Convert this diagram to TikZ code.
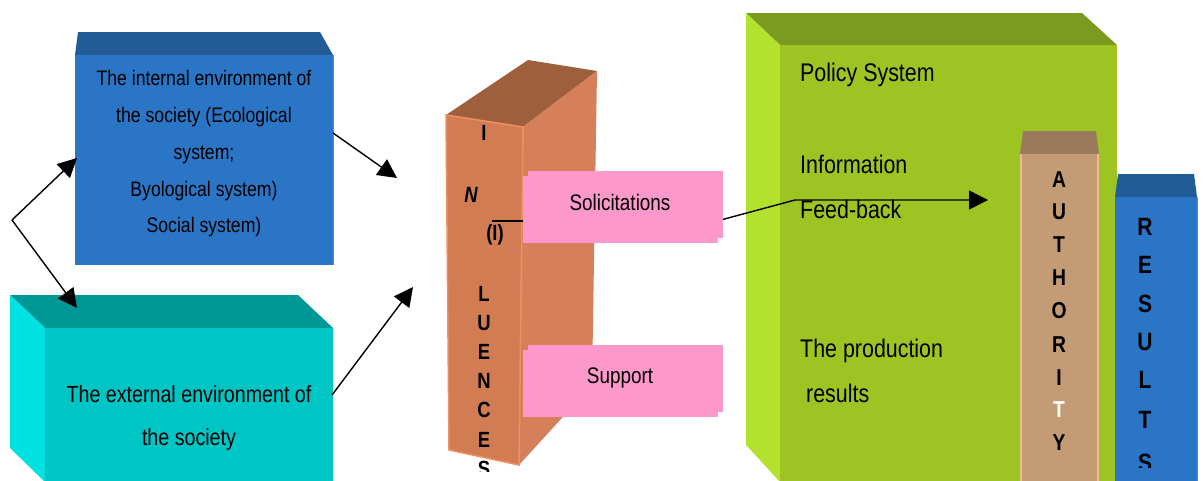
\documentclass[tikz,border=0pt]{standalone}
\usepackage{fontspec}
\setmainfont{Liberation Sans}
\newfontfamily\nf[FakeStretch=0.84]{Liberation Sans}
\usetikzlibrary{arrows.meta}
\definecolor{blueF}{HTML}{2A75C5}
\definecolor{blueT}{HTML}{235B97}
\definecolor{blueE}{HTML}{4A95E0}
\definecolor{tealF}{HTML}{00C5C5}
\definecolor{tealT}{HTML}{009797}
\definecolor{tealS}{HTML}{00E2E2}
\definecolor{orF}{HTML}{D27C53}
\definecolor{orT}{HTML}{9E5F3C}
\definecolor{orS}{HTML}{D5805A}
\definecolor{orE}{HTML}{EE9060}
\definecolor{pinkF}{HTML}{FD98CA}
\definecolor{grF}{HTML}{9EC424}
\definecolor{grT}{HTML}{7A9B20}
\definecolor{grS}{HTML}{B2E22E}
\definecolor{auF}{HTML}{C39C75}
\definecolor{auT}{HTML}{9A7A5C}
\definecolor{auE}{HTML}{E9BE8C}
\definecolor{reT}{HTML}{225C98}
\tikzset{
  face/.style={rectangle, draw=none, inner sep=0pt, outer sep=0pt},
  pinkbox/.style={face, fill=pinkF, minimum width=195pt, minimum height=67pt},
  txt/.style={inner sep=0pt, anchor=base},
  ltxt/.style={inner sep=0pt, anchor=base west, font=\nf\fontsize{25.5}{30}\selectfont},
  btxt/.style={txt, font=\nf\fontsize{21}{25}\selectfont},
  ttxt/.style={txt, font=\nf\fontsize{23.4}{28}\selectfont},
  ptxt/.style={txt, font=\nf\fontsize{22.5}{27}\selectfont},
  ilet/.style={txt, font=\nf\bfseries\fontsize{22}{26}\selectfont},
  alet/.style={txt, font=\nf\bfseries\fontsize{23}{27}\selectfont},
  rlet/.style={txt, font=\nf\bfseries\fontsize{25}{30}\selectfont},
  arr/.style={line width=1.4pt, -{Triangle[length=19pt,width=19pt]}},
  con/.style={line width=1.4pt}
}
\begin{document}
\begin{tikzpicture}[x=1pt,y=-1pt]
\useasboundingbox (0,0) rectangle (1204,480);
\clip (0,0) rectangle (1204,480);

% internal environment (blue box)
\fill[blueT] (78,32) -- (320,32) -- (333,55) -- (75,55) -- cycle;
\node[face, fill=blueF, minimum width=258pt, minimum height=210pt] (internal) at (204,160) {};
\draw[blueE, line width=1pt] (333,55) -- (333,265);

% external environment (teal box)
\fill[tealT] (10,295) -- (298,295) -- (333,328) -- (45,328) -- cycle;
\fill[tealS] (10,295) -- (45,328) -- (45,482) -- (10,448) -- cycle;
\node[face, fill=tealF, minimum width=288pt, minimum height=154pt] (external) at (189,405) {};

% policy system (green box)
\fill[grT] (746,13) -- (1082,13) -- (1117,45) -- (780,45) -- cycle;
\fill[grS] (746,13) -- (780,45) -- (780,482) -- (746,445) -- cycle;
\node[face, fill=grF, minimum width=337pt, minimum height=437pt] (policy) at (948.5,263.5) {};

% authority bar
\fill[auT] (1023,131) -- (1096,131) -- (1099,154) -- (1020,154) -- cycle;
\node[face, fill=auF, minimum width=79pt, minimum height=328pt] (authority) at (1059.5,318) {};
\draw[auE, line width=1.2pt] (1021,154) -- (1021,482) (1098,154) -- (1098,482);

% results bar
\fill[reT] (1118,174) -- (1194,174) -- (1197,197) -- (1115,197) -- cycle;
\node[face, fill=blueF, minimum width=82pt, minimum height=285pt] (results) at (1156,339.5) {};
\draw[blueE, line width=1pt] (1197,197) -- (1197,482);

% influences (orange box)
\fill[orT] (446,115) -- (528,60) -- (597,71) -- (523,127) -- cycle;
\fill[orS] (523,127) -- (597,71) -- (592,385) -- (519,465) -- cycle;
\filldraw[fill=orF, draw=orE, line width=1.5pt] (446,115) -- (523,127) -- (519,465) -- (449,450) -- cycle;

% feed-back connector (behind the pink box)
\coordinate (fbstart) at (492,221);
\coordinate (fbout) at (717,221);
\coordinate (fbbend) at (795,200);
\coordinate (fbend) at (988,200);
\draw[con] (fbstart) -- (fbout);
\draw[arr] (fbout) -- (fbbend) -- (fbend);

% pink boxes
\fill[pinkF] (528,171) rectangle (723,238);
\node[pinkbox] (solic) at (620.5,209.5) {};
\fill[pinkF] (528,345) rectangle (723,412);
\node[pinkbox] (support) at (620.5,383.5) {};

% texts: internal
\node[btxt] (i1) at (204,85) {The internal environment of};
\node[btxt] (i2) at (204,122) {the society (Ecological};
\node[btxt] (i3) at (204,159) {system;};
\node[btxt] (i4) at (204,196) {Byological system)};
\node[btxt] (i5) at (204,232) {Social system)};

% texts: external
\node[ttxt] (e1) at (189,402) {The external environment of};
\node[ttxt] (e2) at (189,445) {the society};

% texts: pink
\node[ptxt] (s1) at (620,210) {Solicitations};
\node[ptxt] (s2) at (620,383) {Support};

% texts: policy
\node[ltxt] (g1) at (800,81) {Policy System};
\node[ltxt] (g2) at (800,173) {Information};
\node[ltxt] (g3) at (800,218) {Feed-back};
\node[ltxt] (g4) at (800,357) {The production};
\node[ltxt] (g5) at (800,402) {\ results};

% INFLUENCES letters
\begin{scope}
\clip (440,100) rectangle (530,471);
\node[ilet] (l1) at (484,140) {I};
\node[ilet, font=\nf\bfseries\itshape\fontsize{22}{26}\selectfont] (l2) at (471,202) {N};
\node[ilet] (l3) at (495,240) {(I)};
\node[ilet] (l4) at (484,301) {L};
\node[ilet] (l5) at (484,330) {U};
\node[ilet] (l6) at (484,359) {E};
\node[ilet] (l7) at (484,388) {N};
\node[ilet] (l8) at (484,417) {C};
\node[ilet] (l9) at (484,447) {E};
\node[ilet] (l10) at (484,476) {S};
\end{scope}

% AUTHORITY letters
\node[alet] (a1) at (1059,187) {A};
\node[alet] (a2) at (1059,219) {U};
\node[alet] (a3) at (1059,252) {T};
\node[alet] (a4) at (1059,285) {H};
\node[alet] (a5) at (1059,318) {O};
\node[alet] (a6) at (1059,352) {R};
\node[alet] (a7) at (1059,385) {I};
\node[alet, text=white] (a8) at (1059,417) {T};
\node[alet] (a9) at (1059,450) {Y};

% RESULTS letters
\begin{scope}
\clip (1115,197) rectangle (1197,467);
\node[rlet] (r1) at (1145,235) {R};
\node[rlet] (r2) at (1145,273) {E};
\node[rlet] (r3) at (1145,312) {S};
\node[rlet] (r4) at (1145,350) {U};
\node[rlet] (r5) at (1145,388) {L};
\node[rlet] (r6) at (1145,428) {T};
\node[rlet] (r7) at (1145,471) {S};
\end{scope}

% arrows on the left
\coordinate (split) at (12,220);
\coordinate (uptip) at (77,158);
\coordinate (dntip) at (77,308);
\draw[arr] (split) -- (uptip);
\draw[arr] (split) -- (dntip);
\coordinate (inout) at (333,133);
\coordinate (intip) at (397,178);
\coordinate (exout) at (332,395);
\coordinate (extip) at (413,287);
\draw[arr] (inout) -- (intip);
\draw[arr] (exout) -- (extip);
\end{tikzpicture}
\end{document}
